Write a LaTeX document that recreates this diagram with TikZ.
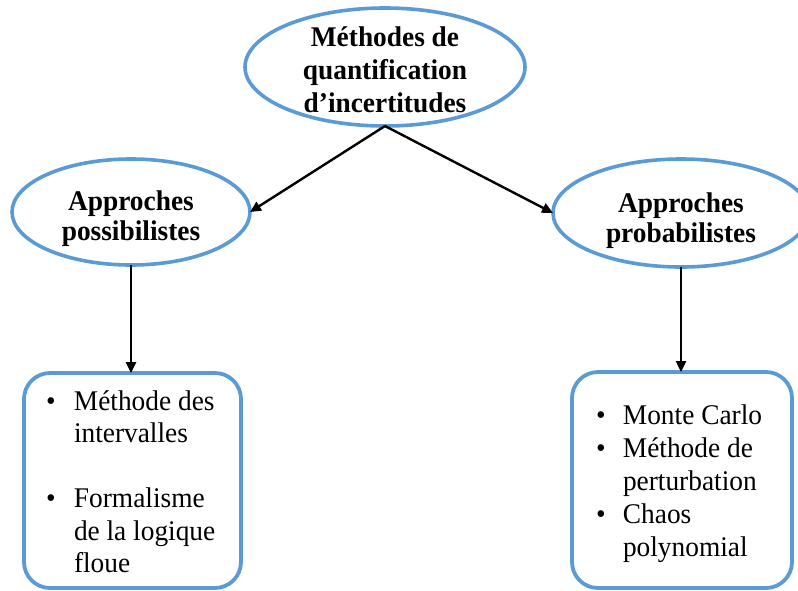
\documentclass[tikz,border=0pt]{standalone}
\usepackage{fontspec}
\setmainfont[FakeStretch=0.96]{Liberation Serif}
\usetikzlibrary{shapes.geometric,arrows.meta}
\definecolor{eblue}{HTML}{5B9BD5}
% place content so that its first baseline is #1 above the node centre, taking no room
\newcommand{\placetext}[2]{\raisebox{#1}[0pt][0pt]{\makebox[0pt]{#2}}}
\begin{document}
\begin{tikzpicture}[x=1pt,y=-1pt,
  ell/.style={ellipse,draw=eblue,line width=3.6pt,inner sep=0pt,outer sep=0pt},
  card/.style={rectangle,rounded corners=26pt,draw=eblue,line width=3.8pt,inner sep=0pt,outer sep=0pt},
  arr/.style={draw=black,line width=2.4pt,-{Triangle[length=11pt,width=10pt]}},
  headfont/.style={font=\fontsize{28.5}{30}\selectfont\bfseries},
]
\useasboundingbox (0,0) rectangle (798,590);
\node[ell,minimum width=280pt,minimum height=118pt,font=\fontsize{28.5}{33}\selectfont\bfseries] (top) at (385,67)
  {\placetext{20.5pt}{\begin{tabular}[t]{@{}c@{}}Méthodes de\\quantification\\d’incertitudes\end{tabular}}};
\node[ell,minimum width=238pt,minimum height=106pt,headfont] (left) at (131,212)
  {\placetext{2pt}{\begin{tabular}[t]{@{}c@{}}Approches\\possibilistes\end{tabular}}};
\node[ell,minimum width=256pt,minimum height=108pt,headfont] (right) at (681,213)
  {\placetext{1pt}{\begin{tabular}[t]{@{}c@{}}Approches\\probabilistes\end{tabular}}};
\node[card,minimum width=217pt,minimum height=215pt,font=\fontsize{28.5}{32.5}\selectfont] (lbox) at (132.5,480.5)
  {\placetext{70.5pt}{\begin{tabular}[t]{@{}p{28pt}@{}p{145pt}@{}}•&Méthode des\\ &intervalles\\ &\\ •&Formalisme\\ &de la logique\\ &floue\end{tabular}}};
\node[card,minimum width=220pt,minimum height=216pt,font=\fontsize{28.5}{33}\selectfont] (rbox) at (682,480)
  {\placetext{56pt}{\begin{tabular}[t]{@{}p{27pt}@{}p{145pt}@{}}•&Monte Carlo\\ •&Méthode de\\ &perturbation\\ •&Chaos\\ &polynomial\end{tabular}}};
\draw[arr] (top.south) -- (left.east);
\draw[arr] (top.south) -- (right.west);
\draw[arr] (left.south) -- (left.south |- lbox.north);
\draw[arr] (right.south) -- (right.south |- rbox.north);
\end{tikzpicture}
\end{document}
